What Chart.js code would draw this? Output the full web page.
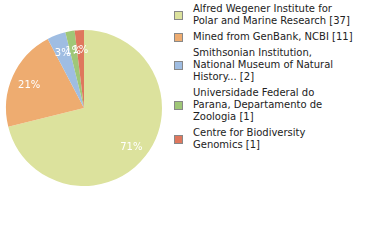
<!DOCTYPE html>
<html>
<head>
<meta charset="utf-8">
<script src="https://cdn.jsdelivr.net/npm/chart.js@4/dist/chart.umd.min.js"></script>
<style>
  body { margin: 0; background: #fff; font-family: "DejaVu Sans", sans-serif; }
  #wrap { position: relative; width: 380px; height: 240px; }
  #pie { position: absolute; left: 0; top: 0; width: 168px; height: 216px; }
  #legend { position: absolute; left: 174px; top: 3px; display: flex; flex-direction: column; gap: 4px; }
  .item { display: flex; align-items: center; }
  .box { width: 7px; height: 7px; border: 1px solid #888; margin-right: 10px; flex: none; }
  .txt { font-size: 10px; line-height: 12px; color: #222; white-space: pre; }
</style>
</head>
<body>
<div id="wrap">
  <div id="pie"><canvas id="c"></canvas></div>
  <div id="legend"></div>
</div>
<script>
const categories = [
  "Alfred Wegener Institute for Polar and Marine Research",
  "Mined from GenBank, NCBI",
  "Smithsonian Institution, National Museum of Natural History...",
  "Universidade Federal do Parana, Departamento de Zoologia",
  "Centre for Biodiversity Genomics"
];
const counts = [37, 11, 2, 1, 1];
const colors = ["#dce29d", "#eeac70", "#9fbde2", "#9fc777", "#df775d"];

const total = counts.reduce((a, b) => a + b, 0);

// word wrap at ~30 chars, like the original legend
function wrapText(s, max) {
  const lines = [];
  let cur = "";
  s.split(" ").forEach(w => {
    if (cur && (cur + " " + w).length > max) {
      lines.push(cur);
      cur = w;
    } else {
      cur = cur ? cur + " " + w : w;
    }
  });
  lines.push(cur);
  return lines.join("\n");
}

// percent labels drawn inside the slices
const pctLabels = {
  id: "pctLabels",
  afterDatasetsDraw(chart) {
    const ctx = chart.ctx;
    const meta = chart.getDatasetMeta(0);
    ctx.save();
    ctx.font = "10px 'DejaVu Sans'";
    ctx.fillStyle = "#fff";
    ctx.textAlign = "center";
    ctx.textBaseline = "middle";
    meta.data.forEach((arc, i) => {
      const mid = (arc.startAngle + arc.endAngle) / 2;
      const r = arc.outerRadius * 0.77;
      const x = arc.x + Math.cos(mid) * r;
      const y = arc.y + Math.sin(mid) * r + 2;
      ctx.fillText(Math.floor(counts[i] / total * 100) + "%", x, y);
    });
    ctx.restore();
  }
};

new Chart(document.getElementById("c"), {
  type: "pie",
  data: {
    labels: categories,
    datasets: [{
      data: counts,
      backgroundColor: colors,
      borderWidth: 0
    }]
  },
  options: {
    responsive: true,
    maintainAspectRatio: false,
    animation: false,
    layout: { padding: 6 },
    plugins: {
      legend: { display: false },
      tooltip: { enabled: false }
    }
  },
  plugins: [pctLabels]
});

const legend = document.getElementById("legend");
categories.forEach((name, i) => {
  const item = document.createElement("div");
  item.className = "item";
  const box = document.createElement("div");
  box.className = "box";
  box.style.background = colors[i];
  const txt = document.createElement("div");
  txt.className = "txt";
  txt.textContent = wrapText(name + " [" + counts[i] + "]", 30);
  item.appendChild(box);
  item.appendChild(txt);
  legend.appendChild(item);
});
</script>
</body>
</html>
